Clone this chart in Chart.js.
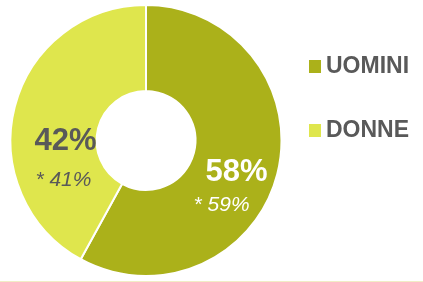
<!DOCTYPE html>
<html>
<head>
<meta charset="utf-8">
<script src="https://cdn.jsdelivr.net/npm/chart.js@4"></script>
<style>
  html, body { margin: 0; padding: 0; background: #fff; }
  #wrap { position: relative; width: 423px; height: 282px; }
</style>
</head>
<body>
<div id="wrap"><canvas id="genderChart"></canvas></div>
<script>
// Gender split doughnut
const categories = ['UOMINI', 'DONNE'];
const shares = [58, 42];
const compareShares = [59, 41]; // the "* xx%" values
const sliceColors = ['#abb11a', '#dfe64d'];
const labelColors = ['#ffffff', '#595959'];

// Slice labels: big percentage with the starred comparison below it
const sliceLabels = {
  id: 'sliceLabels',
  afterDatasetsDraw(chart) {
    const ctx = chart.ctx;
    const arcs = chart.getDatasetMeta(0).data;
    // small nudges so the text sits like in the original
    const nudge = [{ x: 1, y: 9, sx: -14, sy: 42 }, { x: 9, y: 24, sx: 7, sy: 63 }];
    ctx.save();
    ctx.textAlign = 'center';
    ctx.textBaseline = 'middle';
    arcs.forEach((arc, i) => {
      const p = arc.tooltipPosition();
      ctx.fillStyle = labelColors[i];
      ctx.font = 'bold 31px "Liberation Sans", Arial, sans-serif';
      ctx.fillText(shares[i] + '%', p.x + nudge[i].x, p.y + nudge[i].y);
      ctx.font = 'italic 21px "Liberation Sans", Arial, sans-serif';
      ctx.fillText('* ' + compareShares[i] + '%', p.x + nudge[i].sx, p.y + nudge[i].sy);
    });
    ctx.restore();
  }
};

// Legend on the right, drawn by hand for tighter placement
const sideLegend = {
  id: 'sideLegend',
  afterDraw(chart) {
    const ctx = chart.ctx;
    ctx.save();
    ctx.textBaseline = 'middle';
    ctx.font = 'bold 23px "Liberation Sans", Arial, sans-serif';
    categories.forEach((name, i) => {
      const y = 66 + i * 64;
      ctx.fillStyle = sliceColors[i];
      ctx.fillRect(309, y - 6, 12, 13);
      ctx.fillStyle = '#595959';
      ctx.fillText(name, 326, y + 1);
    });
    // thin rule along the bottom
    ctx.fillStyle = '#f1edc6';
    ctx.fillRect(0, chart.height - 1, chart.width, 1);
    ctx.restore();
  }
};

new Chart(document.getElementById('genderChart'), {
  type: 'doughnut',
  data: {
    labels: categories,
    datasets: [{
      data: shares,
      backgroundColor: sliceColors,
      borderColor: '#ffffff',
      borderWidth: 2
    }]
  },
  options: {
    responsive: true,
    maintainAspectRatio: false,
    animation: false,
    cutout: '36.5%',
    layout: { padding: { left: 9, right: 140, top: 4, bottom: 5 } },
    plugins: {
      legend: { display: false },
      tooltip: { enabled: false }
    }
  },
  plugins: [sliceLabels, sideLegend]
});
</script>
</body>
</html>
